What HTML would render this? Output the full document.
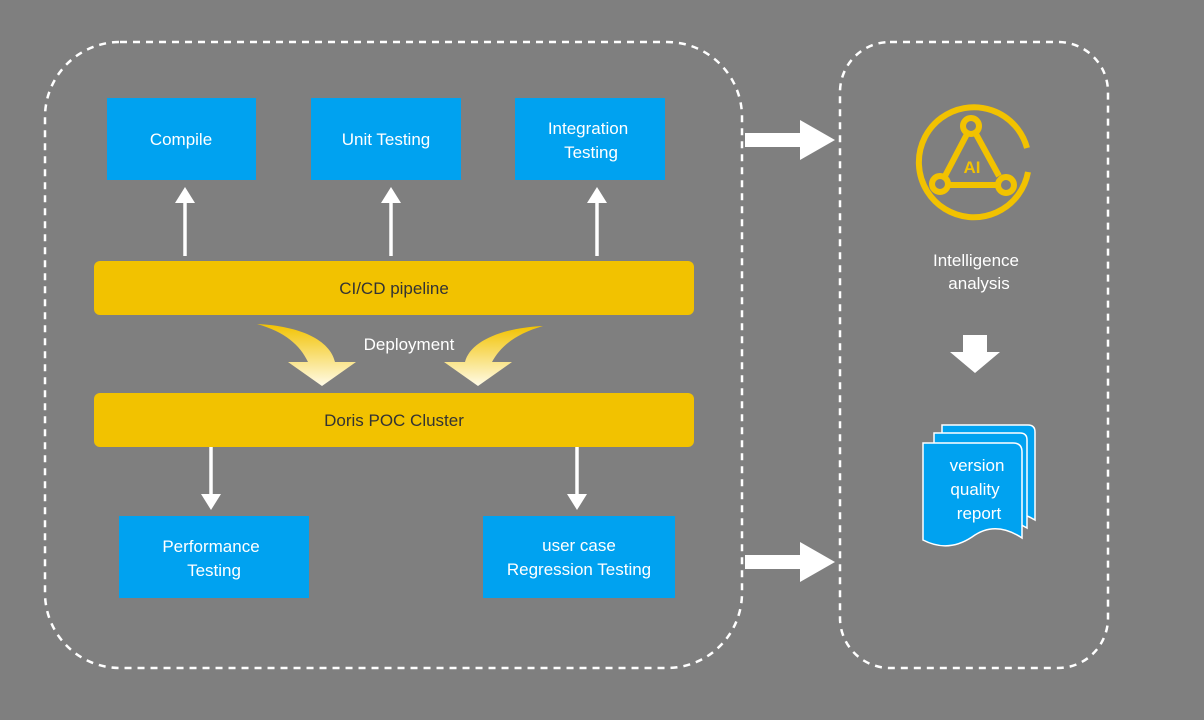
<!DOCTYPE html>
<html><head><meta charset="utf-8"><style>
html,body{margin:0;padding:0;background:#7f7f7f;}
svg{display:block}
text{font-family:"Comic Sans MS","Liberation Sans",sans-serif;fill:#fff;}
</style></head><body>
<svg width="1204" height="720" viewBox="0 0 1204 720" xmlns="http://www.w3.org/2000/svg">
<defs>
<linearGradient id="g" x1="0" y1="0" x2="0" y2="1">
<stop offset="0" stop-color="#f2c200"/><stop offset="1" stop-color="#fffbe8"/>
</linearGradient>
</defs>
<rect x="0" y="0" width="1204" height="720" fill="#7f7f7f"/>
<rect x="45" y="42" width="697" height="626" rx="75" fill="none" stroke="#fff" stroke-width="2.5" stroke-dasharray="7,6"/>
<rect x="840" y="42" width="268" height="626" rx="50" fill="none" stroke="#fff" stroke-width="2.5" stroke-dasharray="7,6"/>

<g fill="#00a2f0">
<rect x="107" y="98" width="149" height="82"/>
<rect x="311" y="98" width="150" height="82"/>
<rect x="515" y="98" width="150" height="82"/>
<rect x="119" y="516" width="190" height="82"/>
<rect x="483" y="516" width="192" height="82"/>
</g>
<g fill="#f2c200">
<rect x="94" y="261" width="600" height="54" rx="6"/>
<rect x="94" y="393" width="600" height="54" rx="6"/>
</g>
<g font-size="17" text-anchor="middle">
<text x="181" y="145">Compile</text>
<text x="386" y="145">Unit Testing</text>
<text x="588" y="134">Integration</text>
<text x="591" y="158">Testing</text>
<text x="211" y="552">Performance</text>
<text x="214" y="576">Testing</text>
<text x="579" y="551">user case</text>
<text x="579" y="575">Regression Testing</text>
<text x="394" y="294" style="fill:#333">CI/CD pipeline</text>
<text x="394" y="426" style="fill:#333">Doris POC Cluster</text>
<text x="409" y="350">Deployment</text>
<text x="976" y="266">Intelligence</text>
<text x="979" y="289">analysis</text>
</g>

<g stroke="#fff" stroke-width="3.5" fill="#fff">
<line x1="185" y1="256" x2="185" y2="200"/><polygon points="175,203 195,203 185,187" stroke="none"/>
<line x1="391" y1="256" x2="391" y2="200"/><polygon points="381,203 401,203 391,187" stroke="none"/>
<line x1="597" y1="256" x2="597" y2="200"/><polygon points="587,203 607,203 597,187" stroke="none"/>
<line x1="211" y1="447" x2="211" y2="497"/><polygon points="201,494 221,494 211,510" stroke="none"/>
<line x1="577" y1="447" x2="577" y2="497"/><polygon points="567,494 587,494 577,510" stroke="none"/>
</g>
<g fill="#fff">
<polygon points="745,133 800,133 800,120 835,140 800,160 800,147 745,147"/>
<polygon points="745,555 800,555 800,542 835,562 800,582 800,569 745,569"/>
<polygon points="963,335 987,335 987,352 1000,352 975,373 950,352 963,352"/>
</g>

<path d="M257,324 C300,326 330,340 335,362 L356,362 L322,386 L288,362 L308,362 C300,345 285,332 257,324 Z" fill="url(#g)"/>
<path d="M543,326 C500,328 470,342 465,362 L444,362 L478,386 L512,362 L492,362 C500,347 515,334 543,326 Z" fill="url(#g)"/>

<g fill="none" stroke="#f2c200" stroke-width="6">
<path d="M1027,148 A55,55 0 1 0 1028,172"/>
<path d="M967,134 L945,176 M976,134 L999,176 M950,185 L998,185"/>
<circle cx="971" cy="126" r="8"/>
<circle cx="940" cy="184" r="8"/>
<circle cx="1006" cy="185" r="8"/>
</g>
<text x="972" y="173" font-size="17" font-weight="bold" text-anchor="middle" style="fill:#f2c200;font-family:'Liberation Sans',sans-serif">AI</text>

<g fill="#00a2f0" stroke="#fff" stroke-width="1.5">
<path d="M942,425 L1028,425 Q1035,425 1035,432 L1035,520 Q1010,505 990,520 Q970,535 942,525 Z"/>
<path d="M934,433 L1020,433 Q1027,433 1027,440 L1027,528 Q1002,513 982,528 Q962,543 934,533 Z"/>
<path d="M923,443 L1013,443 Q1022,443 1022,452 L1022,538 Q995,520 972,537 Q948,553 923,540 Z"/>
</g>
<g font-size="17" text-anchor="middle">
<text x="977" y="471">version</text>
<text x="975" y="495">quality</text>
<text x="979" y="519">report</text>
</g>
</svg>
</body></html>
